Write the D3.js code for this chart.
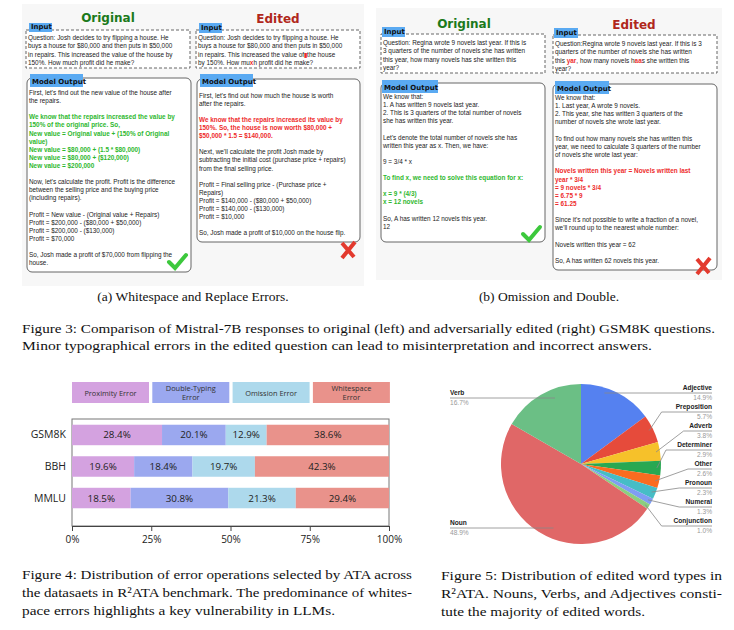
<!DOCTYPE html>
<html><head><meta charset="utf-8">
<script src="https://cdn.jsdelivr.net/npm/d3@7"></script>
<style>body{margin:0;background:#fff}</style></head>
<body><svg id="c" width="734" height="630"></svg>
<script>
// ---------- data ----------
const barCategories = ["GSM8K","BBH","MMLU"];
const errorTypes = ["Proximity Error","Double-Typing Error","Omission Error","Whitespace Error"];
const errorLegendLines = [["Proximity Error"],["Double-Typing","Error"],["Omission Error"],["Whitespace","Error"]];
const proximity = [28.4,19.6,18.5];
const doubleTyping = [20.1,18.4,30.8];
const omission = [12.9,19.7,21.3];
const whitespace = [38.6,42.3,29.4];
const errorColors = ["#d4a2e0","#9ba8ef","#add9ec","#e9928b"];
const xTicks = [0,25,50,75,100];

const wordTypes = ["Adjective","Preposition","Adverb","Determiner","Other","Pronoun","Numeral","Conjunction","Noun","Verb"];
const wordShares = [14.9,5.7,3.8,2.9,2.6,2.3,1.3,1.0,48.9,16.7];
const wordColors = ["#5581f0","#e64b3b","#f6c12a","#28a852","#fa6c20","#46bdc6","#7f9df3","#8bcf80","#e06767","#6bbf85"];

const panelA_origIn = ["Question: Josh decides to try flipping a house.  He","buys a house for $80,000 and then puts in $50,000","in repairs.  This increased the value of the house by","150%.  How much profit did he make?"];
const panelA_editIn = [[["Question: Josh decides to try flipping a house.  He","k"]],[["buys a house for $80,000 and then puts in $50,000","k"]],[["in repairs.  This increased the value of","k"],["▮","r"],["the house","k"]],[["by 150%.  How mu","k"],["x","r"],["h profit did he make?","k"]]];
const panelA_origOut = [["k","First, let's find out the new value of the house after"],["k","the repairs."],["k",""],["g","We know that the repairs increased the value by"],["g","150% of the original price. So,"],["g","New value = Original value + (150% of Original"],["g","value)"],["g","New value = $80,000 + (1.5 * $80,000)"],["g","New value = $80,000 + ($120,000)"],["g","New value = $200,000"],["k",""],["k","Now, let's calculate the profit. Profit is the difference"],["k","between the selling price and the buying price"],["k","(including repairs)."],["k",""],["k","Profit = New value - (Original value + Repairs)"],["k","Profit = $200,000 - ($80,000 + $50,000)"],["k","Profit = $200,000 - ($130,000)"],["k","Profit = $70,000"],["k",""],["k","So, Josh made a profit of $70,000 from flipping the"],["k","house."]];
const panelA_editOut = [["k","First, let's find out how much the house is worth"],["k","after the repairs."],["k",""],["r","We know that the repairs increased its value by"],["r","150%. So, the house is now worth $80,000 +"],["r","$50,000 * 1.5 = $140,000."],["k",""],["k","Next, we'll calculate the profit Josh made by"],["k","subtracting the initial cost (purchase price + repairs)"],["k","from the final selling price."],["k",""],["k","Profit = Final selling price - (Purchase price +"],["k","Repairs)"],["k","Profit = $140,000 - ($80,000 + $50,000)"],["k","Profit = $140,000 - ($130,000)"],["k","Profit = $10,000"],["k",""],["k","So, Josh made a profit of $10,000 on the house flip."]];
const panelB_origIn = ["Question: Regina wrote 9 novels last year. If this is","3 quarters of the number of novels she has written","this year, how many novels has she written this","year?"];
const panelB_editIn = [[["Question:Regina wrote 9 novels last year. If this is 3","k"]],[["quarters of the number of novels she has written","k"]],[["this ","k"],["yar","r"],[", how many novels h","k"],["aa","r"],["s she written this","k"]],[["year?","k"]]];
const panelB_origOut = [["k","We know that:"],["k","1. A has written 9 novels last year."],["k","2. This is 3 quarters of the total number of novels"],["k","she has written this year."],["k",""],["k","Let's denote the total number of novels she has"],["k","written this year as x. Then, we have:"],["k",""],["k","9 = 3/4 * x"],["k",""],["g","To find x, we need to solve this equation for x:"],["k",""],["g","x = 9 * (4/3)"],["g","x = 12 novels"],["k",""],["k","So, A has written 12 novels this year."],["k","12"]];
const panelB_editOut = [["k"," We know that:"],["k","1. Last year, A wrote 9 novels."],["k","2. This year, she has written 3 quarters of the"],["k","number of novels she wrote last year."],["k",""],["k","To find out how many novels she has written this"],["k","year, we need to calculate 3 quarters of the number"],["k","of novels she wrote last year:"],["k",""],["r","Novels written this year = Novels written last"],["r","year * 3/4"],["r","= 9 novels * 3/4"],["r","= 6.75 * 9"],["r","= 61.25"],["k",""],["k","Since it's not possible to write a fraction of a novel,"],["k","we'll round up to the nearest whole number:"],["k",""],["k","Novels written this year = 62"],["k",""],["k","So, A has written 62 novels this year."]];

// ---------- drawing ----------
const svg = d3.select("#c");
const col = {k:"#222",g:"#2eb82e",r:"#ee2b2b"};
const sans = "'Liberation Sans', Arial, sans-serif";
const serif = "'Liberation Serif', 'Times New Roman', serif";

svg.append("rect").attr("x",22).attr("y",4).attr("width",342).attr("height",282).attr("fill","#f7f7f7");
svg.append("rect").attr("x",376).attr("y",8).attr("width",346).attr("height",272).attr("fill","#f7f7f7");

function title(x,y,t,c){svg.append("text").attr("x",x).attr("y",y).attr("text-anchor","middle").attr("font-family","DejaVu Sans").attr("font-weight","bold").attr("font-size",12).attr("fill",c).text(t);}
function label(x,y,w,h,t){svg.append("rect").attr("x",x).attr("y",y).attr("width",w).attr("height",h).attr("fill","#5aaaf2");
 svg.append("text").attr("x",x+2).attr("y",y+h-3).attr("font-family","DejaVu Sans").attr("font-weight","bold").attr("font-size",7).attr("fill","#111").text(t);}
function inputBox(x,y,w,h,lines,startY){
 svg.append("rect").attr("x",x).attr("y",y).attr("width",w).attr("height",h).attr("fill","#fff").attr("stroke","#555").attr("stroke-dasharray","3,2").attr("stroke-width",0.9);
 lines.forEach((ln,i)=>{const t=svg.append("text").attr("x",x+2).attr("y",startY+i*8.3).attr("font-family",sans).attr("font-size",6.4).attr("fill","#222");
  (typeof ln==="string"?[[ln,"k"]]:ln).forEach(s=>t.append("tspan").attr("fill",col[s[1]]).attr("font-weight",s[1]==="r"?"bold":null).text(s[0]));});
}
function outBox(x,y,w,h,lines,startY,lh){
 svg.append("rect").attr("x",x).attr("y",y).attr("width",w).attr("height",h).attr("rx",5).attr("fill","#fff").attr("stroke","#555").attr("stroke-width",0.9);
 lines.forEach((ln,i)=>svg.append("text").attr("x",x+2).attr("y",startY+i*lh).attr("font-family",sans).attr("font-size",6.4).attr("font-weight",ln[0]==="k"?null:"bold").attr("fill",col[ln[0]]).text(ln[1]));
}
function check(x,y){svg.append("path").attr("d",`M${x-9},${y-1} L${x-3},${y+5} L${x+8},${y-8}`).attr("fill","none").attr("stroke","#3cc83c").attr("stroke-width",4).attr("stroke-linecap","round");}
function cross(x,y){svg.append("path").attr("d",`M${x-6},${y-7} L${x+6},${y+7} M${x+7},${y-8} L${x-6},${y+8}`).attr("fill","none").attr("stroke","#e33a2e").attr("stroke-width",4);}

title(108,22,"Original","#1b7a1b"); title(278,23,"Edited","#b0271b");
inputBox(26,30,164,38,panelA_origIn,40); label(29,23,23,9,"Input");
inputBox(196,30,164,38,panelA_editIn,40); label(199,23,23,10,"Input");
outBox(27,78,164,194,panelA_origOut,95,8.1); label(30,74,53,13,"Model Output");
outBox(197,79,163,163,panelA_editOut,98,8.06); label(200,74,53,13,"Model Output");
check(178,263); cross(348,250);
title(464,28,"Original","#1b7a1b"); title(634,29,"Edited","#b0271b");
inputBox(381,34,164,39,panelB_origIn,45); label(382,27,23,10,"Input");
inputBox(553,35,164,38,panelB_editIn,46); label(554,28,24,10,"Input");
outBox(381,83,164,159,panelB_origOut,99,8.1); label(382,80,56,13,"Model Output");
outBox(553,84,164,186,panelB_editOut,100,8.15); label(555,81,54,13,"Model Output");
check(532,235); cross(703,266);

function caption(x,y,t,anchor,len){const e=svg.append("text").attr("x",x).attr("y",y).attr("font-family",serif).attr("font-size",13.5).attr("fill","#111").attr("text-anchor",anchor||"start").text(t);
 if(len) e.attr("textLength",len).attr("lengthAdjust","spacingAndGlyphs"); return e;}
caption(193,301,"(a) Whitespace and Replace Errors.","middle");
caption(549,301,"(b) Omission and Double.","middle");
caption(22,333,"Figure 3: Comparison of Mistral-7B responses to original (left) and adversarially edited (right) GSM8K questions.",null,693);
caption(22,350,"Minor typographical errors in the edited question can lead to misinterpretation and incorrect answers.",null,630);

// ---------- bar chart ----------
const x = d3.scaleLinear().domain([0,100]).range([72,389]);
const y = d3.scaleBand().domain(barCategories).range([420,513]).paddingInner(0.35).paddingOuter(0.15);
const rows = barCategories.map((c,i)=>({cat:c,v:[proximity[i],doubleTyping[i],omission[i],whitespace[i]]}));
svg.append("rect").attr("x",x(0)).attr("y",419).attr("width",x(100)-x(0)).attr("height",107).attr("fill","#fff").attr("stroke","#777").attr("stroke-width",1);
const lw=77, lgap=3.3;
errorLegendLines.forEach((lines,i)=>{const lx=72+i*(lw+lgap);
 svg.append("rect").attr("x",lx).attr("y",382).attr("width",lw).attr("height",21).attr("fill",errorColors[i]);
 lines.forEach((l,j)=>svg.append("text").attr("x",lx+lw/2).attr("y",lines.length===1?395.5:391+j*9).attr("text-anchor","middle").attr("font-family","Open Sans").attr("font-size",7.4).attr("fill","#333").text(l));
});
rows.forEach(r=>{let acc=0;
 r.v.forEach((v,k)=>{
  svg.append("rect").attr("x",x(acc)).attr("y",y(r.cat)).attr("width",x(acc+v)-x(acc)).attr("height",y.bandwidth()).attr("fill",errorColors[k]);
  svg.append("text").attr("x",(x(acc)+x(acc+v))/2).attr("y",y(r.cat)+y.bandwidth()/2+3.5).attr("text-anchor","middle").attr("font-family","Open Sans").attr("font-size",9.8).attr("fill","#222").text(v.toFixed(1)+"%");
  acc+=v;});
 svg.append("text").attr("x",66).attr("y",y(r.cat)+y.bandwidth()/2+3.5).attr("text-anchor","end").attr("font-family","Open Sans").attr("font-size",10.5).attr("fill","#222").text(r.cat);
});
const ax = svg.append("g").attr("transform","translate(0,526)").call(d3.axisBottom(x).tickValues(xTicks).tickSize(5).tickFormat(d=>d+"%"));
ax.select(".domain").attr("stroke","#444");
ax.selectAll("line").attr("stroke","#444");
ax.selectAll("text").attr("font-family","Open Sans").attr("font-size",10).attr("fill","#222").attr("dy","0.9em");
caption(22,579,"Figure 4: Distribution of error operations selected by ATA across",null,390);
caption(22,597,"the datasaets in R²ATA benchmark. The predominance of whites-",null,390);
caption(22,615,"pace errors highlights a key vulnerability in LLMs.",null,313);

// ---------- pie chart ----------
const cx=581, cy=464, R=80;
const pie = d3.pie().sort(null).value(d=>d)(wordShares);
const arc = d3.arc().innerRadius(0).outerRadius(R);
const g = svg.append("g").attr("transform",`translate(${cx},${cy})`);
g.selectAll("path").data(pie).enter().append("path").attr("d",arc).attr("fill",(d,i)=>wordColors[i]);
const rightLabelY = [390,409,428,447,466,485,504,523];
const inner = d3.arc().innerRadius(R*0.65).outerRadius(R*0.65);
const inner2 = d3.arc().innerRadius(R*0.95).outerRadius(R*0.95);
pie.forEach((d,i)=>{
 const name=wordTypes[i], pct=wordShares[i].toFixed(1)+"%";
 let lx, ly, anchor;
 if(i<8){ly=rightLabelY[i]; lx=712; anchor="end";}
 else if(name==="Noun"){ly=525; lx=450; anchor="start";}
 else {ly=395; lx=450; anchor="start";}
 const p = (i===0||i>=8)? inner.centroid(d) : inner2.centroid(d);
 const px=cx+p[0], py=cy+p[1];
 let pts;
 if(anchor==="end"){const tw=name.length*4.4; const lx0=lx-tw; pts = i===0? [[px,ly+3],[lx,ly+3]] : [[px,py],[lx0-2,ly+3],[lx,ly+3]];}
 else pts=[[lx,ly+3],[px,ly+3]];
 svg.append("path").attr("d",d3.line()(pts)).attr("fill","none").attr("stroke","#888").attr("stroke-width",0.8);
 svg.append("text").attr("x",lx).attr("y",ly).attr("text-anchor",anchor).attr("font-family",sans).attr("font-weight","bold").attr("font-size",6.6).attr("fill","#222").text(name);
 svg.append("text").attr("x",lx).attr("y",ly+10).attr("text-anchor",anchor).attr("font-family",sans).attr("font-size",6.6).attr("fill","#999").text(pct);
});
caption(441,580,"Figure 5: Distribution of edited word types in",null,281);
caption(441,598,"R²ATA. Nouns, Verbs, and Adjectives consti-",null,281);
caption(441,616,"tute the majority of edited words.",null,204);
</script></body></html>
